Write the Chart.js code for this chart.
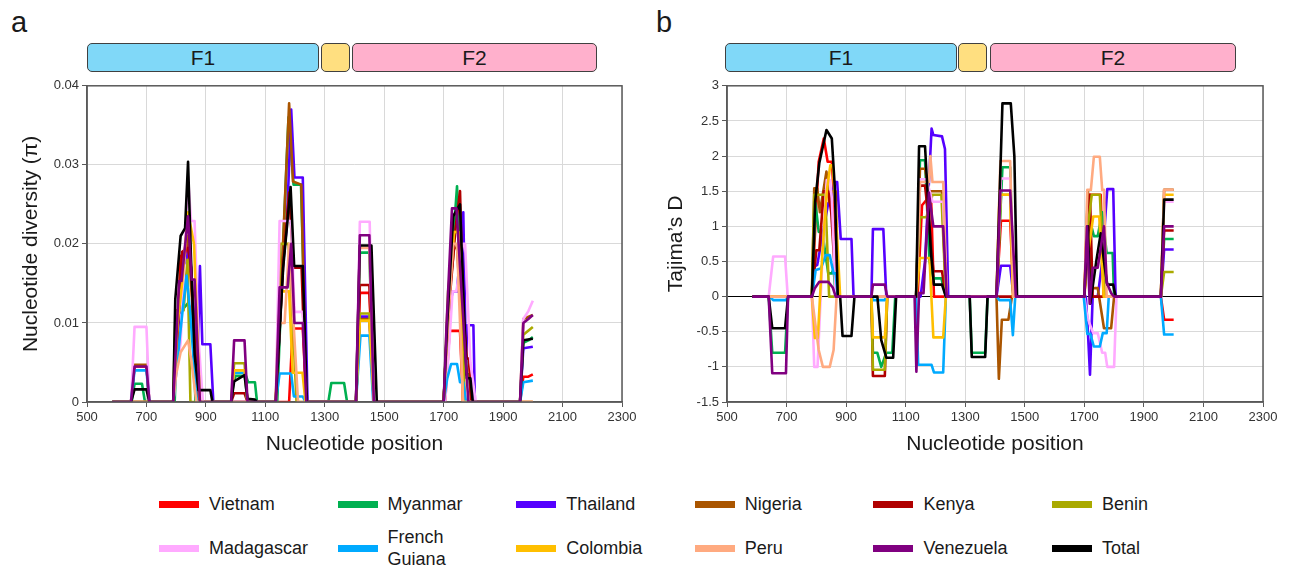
<!DOCTYPE html>
<html>
<head>
<meta charset="utf-8">
<script src="https://cdn.jsdelivr.net/npm/chart.js@4.4.1/dist/chart.umd.min.js"></script>
<style>
  body { margin: 0; background: #fff; font-family: "Liberation Sans", Arial, sans-serif; color: #1a1a1a; }
  #wrap { position: relative; width: 1293px; height: 568px; overflow: hidden; }
  .abs { position: absolute; }
  .plabel { font-size: 29px; line-height: 1; }
  .gene { position: absolute; top: 43px; height: 27px; border: 1.5px solid #404040; border-radius: 5px;
          font-size: 21px; line-height: 27px; text-align: center; }
  .sw { position: absolute; width: 40px; height: 7px; }
  .lt { position: absolute; height: 44px; display: flex; align-items: center; font-size: 18px; line-height: 22px; white-space: pre-line; }
</style>
</head>
<body>
<div id="wrap">
  <div class="abs plabel" style="left:11px;top:8px">a</div>
  <div class="abs plabel" style="left:656px;top:8px">b</div>

  <div class="gene" style="left:87px;width:230px;background:#80d8f8">F1</div>
  <div class="gene" style="left:321px;width:27px;background:#ffdf80"></div>
  <div class="gene" style="left:352px;width:243px;background:#ffb0cc">F2</div>

  <div class="gene" style="left:725px;width:230px;background:#80d8f8">F1</div>
  <div class="gene" style="left:958px;width:27px;background:#ffdf80"></div>
  <div class="gene" style="left:990px;width:244px;background:#ffb0cc">F2</div>

  <canvas id="chartA" class="abs" style="left:0;top:75px" width="650" height="400"></canvas>
  <canvas id="chartB" class="abs" style="left:650px;top:75px" width="643" height="400"></canvas>
  <div id="legend"></div>
</div>

<script>
// series names and colours (legend order)
var countries = ['Vietnam', 'Myanmar', 'Thailand', 'Nigeria', 'Kenya', 'Benin',
                 'Madagascar', 'French\nGuiana', 'Colombia', 'Peru', 'Venezuela', 'Total'];
var colors = ['#ff0000', '#00b050', '#5500ff', '#aa5500', '#b00000', '#aaaa00',
              '#ffaaff', '#00aaff', '#ffbf00', '#ffaa80', '#800080', '#000000'];
// drawing order: Venezuela on top, then Total, then the rest
var drawOrder = [12, 11, 10, 9, 8, 7, 6, 5, 4, 3, 0, 1];

var xTicks = [500, 700, 900, 1100, 1300, 1500, 1700, 1900, 2100, 2300];

// a: nucleotide diversity, [position, pi]
var piVietnam = [[585,0],[648,0],[660,0.0045],[700,0.0045],[710,0],[790,0],[803,0.008],[815,0.0185],[830,0.0185],[840,0.021],[850,0.016],[862,0.008],[875,0],[1180,0],[1192,0.0093],[1226,0.0093],[1238,0],[1405,0],[1418,0.0138],[1450,0.0138],[1465,0],[1705,0],[1720,0.009],[1755,0.009],[1765,0],[1957,0],[1968,0.0032],[1985,0.0032],[2000,0.0035]];
var piMyanmar = [[585,0],[650,0],[660,0.0023],[685,0.0023],[695,0],[795,0],[805,0.011],[840,0.0125],[855,0.011],[865,0],[985,0],[993,0.0025],[1000,0.0033],[1035,0.0033],[1042,0.0025],[1065,0.0025],[1072,0],[1140,0],[1160,0.02],[1178,0.036],[1195,0.0275],[1220,0.0275],[1240,0],[1312,0],[1322,0.0024],[1365,0.0024],[1375,0],[1405,0],[1418,0.0189],[1450,0.0189],[1465,0],[1700,0],[1715,0.012],[1735,0.022],[1745,0.0273],[1760,0.012],[1768,0.007],[1775,0.0035],[1785,0.0035],[1795,0],[1957,0],[1968,0.0075],[1985,0.0078],[2000,0.0082]];
var piThailand = [[585,0],[790,0],[805,0.008],[820,0.017],[835,0.018],[845,0.02],[858,0.012],[872,0.005],[880,0.0172],[888,0.0073],[915,0.0073],[925,0],[1135,0],[1160,0.018],[1172,0.022],[1187,0.037],[1198,0.0284],[1226,0.0284],[1242,0],[1405,0],[1418,0.0108],[1450,0.0108],[1465,0],[1700,0],[1712,0.01],[1730,0.014],[1745,0.014],[1766,0.024],[1775,0.005],[1780,0.0097],[1800,0.0097],[1805,0],[1957,0],[1968,0.0068],[2000,0.007]];
var piNigeria = [[585,0],[648,0],[660,0.0047],[700,0.0047],[710,0],[790,0],[805,0.01],[820,0.018],[840,0.021],[855,0.012],[870,0],[1135,0],[1160,0.0204],[1180,0.0378],[1193,0.0279],[1221,0.0275],[1228,0.016],[1237,0],[1405,0],[1418,0.0105],[1450,0.0105],[1465,0],[1700,0],[1715,0.012],[1735,0.0195],[1745,0.0195],[1760,0.01],[1770,0],[1957,0],[1968,0.0105],[2000,0.011]];
var piKenya = [[585,0],[790,0],[805,0.009],[820,0.019],[840,0.0195],[850,0.017],[862,0.008],[875,0],[985,0],[995,0.0011],[1030,0.0011],[1040,0],[1135,0],[1160,0.0174],[1180,0.0265],[1195,0.017],[1222,0.017],[1237,0],[1405,0],[1418,0.0148],[1450,0.0148],[1465,0],[1700,0],[1718,0.012],[1740,0.022],[1755,0.0267],[1765,0.012],[1778,0.0055],[1785,0.0055],[1792,0],[2000,0]];
var piBenin = [[585,0],[790,0],[798,0.0116],[825,0.0116],[838,0.018],[848,0],[985,0],[995,0.0049],[1030,0.0049],[1040,0],[1135,0],[1150,0.02],[1178,0.02],[1195,0.008],[1205,0],[1405,0],[1418,0.0112],[1450,0.0112],[1465,0],[1700,0],[1715,0.014],[1735,0.0215],[1750,0.0215],[1762,0.008],[1772,0],[1957,0],[1968,0.0085],[2000,0.0095]];
var piMadagascar = [[585,0],[648,0],[660,0.0095],[700,0.0095],[710,0],[790,0],[800,0.0035],[815,0.0075],[840,0.0285],[850,0.0229],[862,0.0229],[875,0.008],[890,0],[1135,0],[1148,0.0229],[1187,0.0229],[1198,0.0114],[1226,0.0114],[1240,0],[1405,0],[1418,0.0228],[1451,0.0228],[1465,0],[1705,0],[1720,0.008],[1730,0.014],[1743,0.014],[1765,0.02],[1772,0.02],[1790,0.005],[1808,0],[1957,0],[1968,0.0105],[1985,0.0115],[2000,0.0128]];
var piFrenchGuiana = [[585,0],[648,0],[660,0.004],[700,0.004],[710,0],[790,0],[805,0.0055],[820,0.011],[835,0.016],[848,0.011],[858,0.0057],[870,0],[985,0],[995,0.0037],[1030,0.0037],[1040,0],[1135,0],[1148,0.0036],[1187,0.0036],[1196,0.0007],[1226,0.0007],[1235,0],[1405,0],[1420,0.0084],[1450,0.0084],[1463,0],[1700,0],[1712,0.003],[1725,0.0048],[1745,0.0048],[1755,0.0025],[1766,0.0025],[1775,0],[1957,0],[1968,0.0025],[2000,0.0027]];
var piColombia = [[585,0],[790,0],[805,0.01],[820,0.015],[840,0.024],[860,0.02],[870,0.01],[880,0],[985,0],[995,0.004],[1030,0.004],[1040,0],[1135,0],[1150,0.014],[1180,0.014],[1192,0.0037],[1225,0.0037],[1235,0],[1405,0],[1418,0.0103],[1450,0.0103],[1465,0],[1700,0],[1715,0.012],[1735,0.0215],[1750,0.0215],[1765,0],[2000,0]];
var piPeru = [[585,0],[790,0],[800,0.0035],[815,0.0063],[840,0.0078],[852,0.005],[868,0],[1135,0],[1148,0.01],[1165,0.01],[1180,0.02],[1195,0.01],[1210,0],[1405,0],[1418,0.0195],[1450,0.0195],[1465,0],[1700,0],[1715,0.01],[1732,0.02],[1745,0.02],[1755,0.01],[1765,0],[2000,0]];
var piVenezuela = [[585,0],[648,0],[660,0.0045],[700,0.0045],[710,0],[790,0],[800,0.0076],[810,0.0153],[818,0.0153],[840,0.0235],[852,0.0155],[862,0.0155],[880,0],[985,0],[995,0.0078],[1030,0.0078],[1040,0],[1135,0],[1148,0.0145],[1175,0.0145],[1187,0.02],[1198,0.01],[1226,0.01],[1238,0],[1405,0],[1418,0.0211],[1450,0.0211],[1465,0],[1700,0],[1710,0.01],[1728,0.0245],[1743,0.0245],[1783,0],[1957,0],[1968,0.01],[1985,0.0105],[2000,0.011]];
var piTotal = [[585,0],[648,0],[660,0.0016],[700,0.0016],[710,0],[790,0],[797,0.013],[815,0.021],[830,0.022],[840,0.0304],[850,0.018],[862,0.006],[875,0.0015],[915,0.0015],[922,0],[985,0],[995,0.0026],[1030,0.0034],[1040,0.0004],[1065,0.0003],[1072,0],[1135,0],[1160,0.017],[1185,0.0272],[1197,0.0172],[1226,0.0172],[1240,0],[1405,0],[1418,0.0198],[1457,0.0198],[1475,0],[1700,0],[1712,0.01],[1732,0.0235],[1755,0.025],[1770,0.01],[1778,0.003],[1790,0.003],[1798,0],[1957,0],[1968,0.0078],[2000,0.008]];

// b: Tajima's D, [position, D]
var tdVietnam = [[585,0],[785,0],[800,1.3],[808,1.92],[825,2.25],[838,1.92],[852,1.92],[858,1.5],[865,0],[1140,0],[1155,1.3],[1185,1.45],[1195,0],[1405,0],[1420,1.08],[1451,1.08],[1462,0],[1700,0],[1712,1.45],[1755,1.45],[1765,0],[1957,0],[1968,-0.33],[2000,-0.33]];
var tdMyanmar = [[585,0],[640,0],[652,-0.8],[695,-0.8],[705,0],[785,0],[797,1.33],[808,0.92],[820,0.92],[840,0.33],[852,0.33],[858,0.4],[865,0],[985,0],[990,-0.8],[1005,-0.8],[1018,-1.0],[1035,-0.8],[1055,-0.8],[1065,0],[1135,0],[1148,1.94],[1165,1.94],[1180,0.5],[1193,0.26],[1220,0.26],[1235,0],[1315,0],[1322,-0.8],[1367,-0.8],[1375,0],[1405,0],[1425,1.84],[1451,1.84],[1462,0],[1700,0],[1712,1.2],[1732,0.86],[1745,0.86],[1760,1.2],[1775,0.62],[1795,0.62],[1800,0],[1957,0],[1968,0.82],[2000,0.82]];
var tdThailand = [[585,0],[785,0],[795,0.43],[803,0.45],[840,1.33],[852,1.33],[860,1.63],[870,1.63],[882,0.82],[918,0.82],[925,0],[985,0],[990,0.96],[1025,0.96],[1035,0],[1150,0],[1165,0.5],[1187,2.39],[1193,2.3],[1222,2.28],[1232,2.1],[1243,0],[1405,0],[1420,0.44],[1451,0.44],[1462,0],[1705,0],[1712,-0.5],[1719,-1.11],[1728,0],[1745,0],[1760,0.5],[1777,1.53],[1797,1.53],[1805,0],[1957,0],[1968,0.67],[2000,0.67]];
var tdNigeria = [[585,0],[785,0],[793,1.54],[803,1.54],[812,1.2],[834,1.78],[843,1.35],[852,1.5],[865,1.5],[872,0],[1135,0],[1148,1.82],[1165,1.82],[1178,1.5],[1222,1.5],[1235,0],[1405,0],[1413,-1.17],[1423,-0.33],[1445,-0.33],[1457,0],[1700,0],[1712,1.5],[1725,0.12],[1745,0.12],[1766,-0.45],[1790,-0.45],[1800,0],[1957,0],[1968,1.52],[2000,1.52]];
var tdKenya = [[585,0],[785,0],[800,0.66],[810,0.66],[825,1.5],[840,1.5],[850,1.2],[860,0.5],[868,0],[985,0],[990,-1.13],[1030,-1.13],[1038,0],[1135,0],[1148,1.58],[1165,1.58],[1180,1.0],[1193,0.36],[1222,0.36],[1235,0],[1700,0],[1719,1.45],[1728,0],[1957,0],[1968,0.94],[2000,0.94]];
var tdBenin = [[585,0],[785,0],[793,1.45],[830,1.45],[843,0],[985,0],[990,-1.04],[1030,-1.04],[1038,0],[1135,0],[1148,1.13],[1170,1.13],[1190,1.45],[1220,1.45],[1235,0],[1405,0],[1420,1.45],[1451,1.45],[1462,0],[1700,0],[1712,1.0],[1725,1.45],[1752,1.45],[1762,0.6],[1770,0],[1957,0],[1968,0.35],[2000,0.35]];
var tdMadagascar = [[585,0],[640,0],[655,0.57],[695,0.57],[704,0],[785,0],[793,-1.0],[804,-1.0],[820,0.5],[835,1.66],[845,1.66],[852,1.4],[865,0],[1135,0],[1148,1.67],[1170,1.67],[1190,1.35],[1226,1.35],[1238,0],[1405,0],[1420,1.68],[1451,1.68],[1462,0],[1700,0],[1710,-0.3],[1730,-0.52],[1745,-0.52],[1760,-0.8],[1770,-0.8],[1777,-1.0],[1800,-1.0],[1808,0],[1957,0],[1968,1.35],[2000,1.35]];
var tdFrenchGuiana = [[585,0],[645,0],[655,-0.05],[698,-0.05],[705,0],[785,0],[798,0.38],[815,0.4],[832,0.59],[845,0.59],[858,0.33],[865,0.33],[872,0],[985,0],[990,-0.05],[1030,-0.05],[1035,0],[1135,0],[1142,-0.97],[1187,-0.97],[1195,-1.08],[1226,-1.08],[1235,0],[1405,0],[1415,-0.05],[1451,-0.05],[1460,-0.55],[1468,0],[1698,0],[1710,-0.53],[1720,-0.53],[1732,-0.71],[1752,-0.71],[1762,-0.52],[1775,-0.52],[1782,0],[1957,0],[1968,-0.54],[2000,-0.54]];
var tdColombia = [[585,0],[785,0],[795,-0.59],[805,-0.59],[820,0.6],[835,1.5],[847,1.87],[855,1.87],[868,1.0],[880,0],[985,0],[990,-0.58],[1030,-0.58],[1038,0],[1135,0],[1148,0.55],[1180,0.55],[1193,-0.58],[1226,-0.58],[1235,0],[1405,0],[1415,1.45],[1451,1.45],[1460,0],[1700,0],[1712,0.6],[1730,1.14],[1750,1.14],[1765,0],[1957,0],[1968,1.45],[2000,1.45]];
var tdPeru = [[585,0],[785,0],[797,-0.4],[808,-0.76],[822,-1.0],[845,-1.0],[858,-0.76],[868,0],[1135,0],[1148,1.63],[1178,1.63],[1183,2.0],[1190,1.63],[1226,1.63],[1238,0],[1405,0],[1418,1.93],[1451,1.93],[1462,0],[1700,0],[1710,1.52],[1722,1.52],[1732,1.99],[1752,1.99],[1760,1.52],[1766,1.52],[1775,0],[1957,0],[1968,1.52],[2000,1.52]];
var tdVenezuela = [[585,0],[640,0],[652,-1.09],[698,-1.09],[705,0],[785,0],[795,0.12],[810,0.21],[840,0.21],[855,0.13],[865,0],[985,0],[990,0.17],[1030,0.17],[1038,0],[1130,0],[1136,-1.07],[1145,0.05],[1160,0.05],[1178,1.48],[1193,1.0],[1226,1.0],[1238,0],[1405,0],[1418,1.51],[1451,1.51],[1470,0],[1700,0],[1709,1.0],[1718,-0.1],[1728,0.41],[1745,0.41],[1766,1.0],[1775,0.2],[1790,0.05],[1800,0],[1957,0],[1968,1.0],[2000,1.0]];
var tdTotal = [[585,0],[640,0],[652,-0.45],[695,-0.45],[705,0],[785,0],[796,1.35],[810,1.9],[834,2.37],[852,2.25],[862,1.56],[872,0],[880,0],[888,-0.56],[918,-0.56],[928,0],[1005,0],[1018,-0.62],[1035,-0.87],[1058,-0.87],[1068,0],[1135,0],[1145,2.14],[1165,2.14],[1185,0.62],[1195,0.17],[1222,0.17],[1235,0],[1315,0],[1322,-0.86],[1367,-0.86],[1375,0],[1405,0],[1425,2.75],[1453,2.75],[1465,2.0],[1474,0],[1700,0],[1712,1.0],[1720,-0.1],[1740,0.5],[1755,0.9],[1766,0.5],[1777,0.17],[1797,0.17],[1805,0],[1957,0],[1968,1.38],[2000,1.38]];

var piSeries = [piVietnam, piMyanmar, piThailand, piNigeria, piKenya, piBenin,
                piMadagascar, piFrenchGuiana, piColombia, piPeru, piVenezuela, piTotal];
var tdSeries = [tdVietnam, tdMyanmar, tdThailand, tdNigeria, tdKenya, tdBenin,
                tdMadagascar, tdFrenchGuiana, tdColombia, tdPeru, tdVenezuela, tdTotal];

var FONT = '"Liberation Sans", Arial, sans-serif';

// box round the plot area (top and right sides)
var framePlugin = {
    id: 'frame',
    afterDatasetsDraw: function (chart) {
        var a = chart.chartArea, ctx = chart.ctx;
        ctx.save();
        ctx.strokeStyle = '#595959';
        ctx.lineWidth = 1.5;
        ctx.strokeRect(a.left, a.top, a.right - a.left, a.bottom - a.top);
        ctx.restore();
    }
};

function createPanel(elementId, series, yMin, yMax, yStep, yTitle, yWidth, pad, tickFmt) {
    var ctx = document.getElementById(elementId).getContext('2d');
    var datasets = [];
    for (var i = 0; i < series.length; i++) {
        datasets.push({
            label: countries[i].replace('\n', ' '),
            data: series[i].map(function (p) { return { x: p[0], y: p[1] }; }),
            borderColor: colors[i],
            borderWidth: 2.6,
            borderJoinStyle: 'round',
            fill: false,
            tension: 0,
            pointRadius: 0,
            order: drawOrder[i]
        });
    }
    return new Chart(ctx, {
        type: 'line',
        data: { datasets: datasets },
        plugins: [framePlugin],
        options: {
            responsive: false,
            animation: false,
            layout: { padding: pad },
            plugins: { legend: { display: false }, tooltip: { enabled: false } },
            scales: {
                x: {
                    type: 'linear',
                    min: 500,
                    max: 2300,
                    afterBuildTicks: function (s) { s.ticks = xTicks.map(function (v) { return { value: v }; }); },
                    afterFit: function (s) { s.height = 59; },
                    grid: { color: '#d9d9d9', tickColor: '#595959', tickLength: 5 },
                    border: { color: '#595959', width: 1.5 },
                    ticks: { color: '#333', font: { family: FONT, size: 13 }, maxRotation: 0,
                             callback: function (v) { return String(v); } },
                    title: { display: true, text: 'Nucleotide position', color: '#1a1a1a',
                             font: { family: FONT, size: 21 } }
                },
                y: {
                    min: yMin,
                    max: yMax,
                    afterFit: function (s) { s.width = yWidth; },
                    grid: {
                        color: function (c) { return (c.tick && c.tick.value === 0 && yMin < 0) ? '#000000' : '#d9d9d9'; },
                        tickColor: '#595959',
                        tickLength: 5
                    },
                    border: { color: '#595959', width: 1.5 },
                    ticks: { stepSize: yStep, color: '#333', font: { family: FONT, size: 13 }, callback: tickFmt },
                    title: { display: true, text: yTitle, color: '#1a1a1a', font: { family: FONT, size: 21 } }
                }
            }
        }
    });
}

createPanel('chartA', piSeries, 0, 0.04, 0.01, 'Nucleotide diversity (\u03c0)', 72,
    { left: 15, top: 9, right: 28, bottom: 14 },
    function (v) { return v === 0 ? '0' : v.toFixed(2); });

createPanel('chartB', tdSeries, -1.5, 3, 0.5, 'Tajima\u2019s D', 67,
    { left: 10, top: 10, right: 30, bottom: 14 },
    function (v) { return String(Math.round(v * 10) / 10); });

// legend, two rows of six
var legend = document.getElementById('legend');
for (var i = 0; i < countries.length; i++) {
    var col = i % 6, row = Math.floor(i / 6);
    var left = 159 + col * 178.6;
    var cy = row === 0 ? 504 : 548;
    var sw = document.createElement('div');
    sw.className = 'sw';
    sw.style.left = left + 'px';
    sw.style.top = (cy - 3.5) + 'px';
    sw.style.background = colors[i];
    legend.appendChild(sw);
    var lt = document.createElement('div');
    lt.className = 'lt';
    lt.style.left = (left + 50) + 'px';
    lt.style.top = (cy - 22) + 'px';
    lt.textContent = countries[i];
    legend.appendChild(lt);
}
</script>
</body>
</html>
